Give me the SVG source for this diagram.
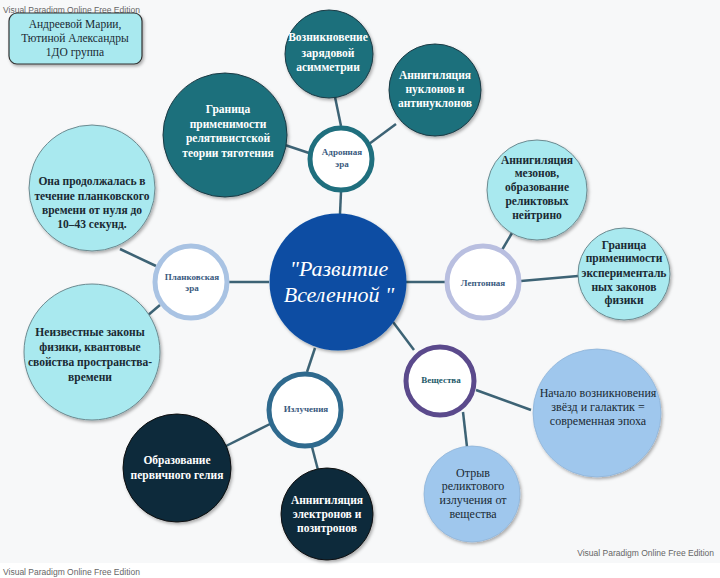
<svg xmlns="http://www.w3.org/2000/svg" width="720" height="578" viewBox="0 0 720 578">
<defs>
<filter id="sh" x="-20%" y="-20%" width="140%" height="140%">
<feDropShadow dx="1.5" dy="2" stdDeviation="1.5" flood-color="#000" flood-opacity="0.3"/>
</filter>
<style>
.wm{font-family:"Liberation Sans",Arial,sans-serif;font-size:8.5px;fill:#666}
.t{font-family:"Liberation Serif","Times New Roman",serif;text-anchor:middle}
.b{font-weight:bold;font-size:11.5px}
.w{fill:#ffffff}
.d{fill:#1a2a33}
.era{font-weight:bold;font-size:9px}
.teal{fill:#1e6f7c;stroke:#1a3a44;stroke-width:1;filter:url(#sh)}
.cyan{fill:#a9e9ef;stroke:#6c8a90;stroke-width:1;filter:url(#sh)}
.lb{fill:#9fc7ed;stroke:#8fb4d8;stroke-width:0.8;filter:url(#sh)}
.navy{fill:#0b2a3a;stroke:#111;stroke-width:1;filter:url(#sh)}
.ring{fill:#ffffff;stroke-width:5}
.ln{stroke:#3d6375;stroke-width:2.5;fill:none}
</style>
</defs>
<rect x="0" y="0" width="720" height="578" fill="#f7f8f9"/>
<rect x="0" y="563" width="720" height="15" fill="#ffffff"/>
<text class="wm" x="3" y="13">Visual Paradigm Online Free Edition</text>
<text class="wm" x="714" y="556" text-anchor="end">Visual Paradigm Online Free Edition</text>
<text class="wm" x="3" y="575">Visual Paradigm Online Free Edition</text>

<g id="connectors">
<line class="ln" x1="340" y1="214" x2="341" y2="192"/>
<line class="ln" x1="341" y1="126" x2="335" y2="97"/>
<line class="ln" x1="369" y1="144" x2="396" y2="124"/>
<line class="ln" x1="309" y1="153" x2="285" y2="145"/>
<line class="ln" x1="269" y1="282" x2="229" y2="282"/>
<line class="ln" x1="156" y1="266" x2="120" y2="249"/>
<line class="ln" x1="160" y1="305" x2="147" y2="316"/>
<line class="ln" x1="406" y1="282" x2="445" y2="282"/>
<line class="ln" x1="502" y1="250" x2="512" y2="233"/>
<line class="ln" x1="521" y1="281" x2="578" y2="276"/>
<line class="ln" x1="393" y1="322" x2="414" y2="350"/>
<line class="ln" x1="476" y1="390" x2="531" y2="410"/>
<line class="ln" x1="463" y1="412" x2="467" y2="447"/>
<line class="ln" x1="315" y1="348" x2="307" y2="372"/>
<line class="ln" x1="270" y1="424" x2="226" y2="446"/>
<line class="ln" x1="312" y1="447" x2="318" y2="470"/>
</g>

<g id="authors">
<rect x="9" y="13" width="133" height="51" rx="8" fill="#a9e9ef" stroke="#333" stroke-width="1.2" filter="url(#sh)"/>
<text class="t d" font-size="11.5" x="75" y="28">Андреевой Марии,</text>
<text class="t d" font-size="11.5" x="75" y="42">Тютиной Александры</text>
<text class="t d" font-size="11.5" x="75" y="56">1ДО группа</text>
</g>

<g id="center">
<circle cx="338" cy="282" r="68.5" fill="#0b4ea3" filter="url(#sh)"/>
<text class="t w" font-style="italic" font-size="22" x="339" y="276">"Развитие</text>
<text class="t w" font-style="italic" font-size="22" x="339" y="302">Вселенной "</text>
</g>

<g id="hadron">
<circle class="ring" cx="341" cy="159" r="31" stroke="#1f6f7e"/>
<text class="t era" fill="#3a5a80" x="342" y="155">Адронная</text>
<text class="t era" fill="#3a5a80" x="342" y="167">эра</text>
</g>
<g id="charge">
<circle class="teal" cx="329" cy="54" r="44"/>
<text class="t b w" x="328" y="41">Возникновение</text>
<text class="t b w" x="328" y="57">зарядовой</text>
<text class="t b w" x="328" y="71">асимметрии</text>
</g>
<g id="nucleons">
<circle class="teal" cx="435" cy="90" r="46"/>
<text class="t b w" x="435" y="79">Аннигиляция</text>
<text class="t b w" x="435" y="93">нуклонов и</text>
<text class="t b w" x="435" y="107">антинуклонов</text>
</g>
<g id="relativity">
<circle class="teal" cx="225" cy="135" r="62"/>
<text class="t b w" x="228" y="113">Граница</text>
<text class="t b w" x="228" y="128">применимости</text>
<text class="t b w" x="228" y="142">релятивистской</text>
<text class="t b w" x="228" y="157">теории тяготения</text>
</g>

<g id="planck">
<circle class="ring" cx="191" cy="282" r="36" stroke="#a9c3e3"/>
<text class="t era" fill="#3a5a80" x="192" y="280">Планковская</text>
<text class="t era" fill="#3a5a80" x="192" y="291">эра</text>
</g>
<g id="duration">
<circle class="cyan" cx="92" cy="188" r="63"/>
<text class="t b d" x="92" y="185">Она продолжалась в</text>
<text class="t b d" x="92" y="200">течение планковского</text>
<text class="t b d" x="92" y="214">времени от нуля до</text>
<text class="t b d" x="92" y="228">10–43 секунд.</text>
</g>
<g id="unknown">
<circle class="cyan" cx="92" cy="352" r="68"/>
<text class="t b d" x="90" y="336">Неизвестные законы</text>
<text class="t b d" x="90" y="351">физики, квантовые</text>
<text class="t b d" x="90" y="366">свойства пространства-</text>
<text class="t b d" x="90" y="381">времени</text>
</g>

<g id="lepton">
<circle class="ring" cx="483" cy="282" r="36" stroke="#b9bfe0"/>
<text class="t era" fill="#3a5a80" x="483" y="286">Лептонная</text>
</g>
<g id="mesons">
<circle class="cyan" cx="537" cy="190" r="50"/>
<text class="t b d" x="537" y="164">Аннигиляция</text>
<text class="t b d" x="537" y="177">мезонов,</text>
<text class="t b d" x="537" y="191">образование</text>
<text class="t b d" x="537" y="205">реликтовых</text>
<text class="t b d" x="537" y="219">нейтрино</text>
</g>
<g id="experimental">
<circle class="cyan" cx="624" cy="274" r="46"/>
<text class="t b d" x="624" y="249">Граница</text>
<text class="t b d" x="624" y="262">применимости</text>
<text class="t b d" x="624" y="277">эксперименталь</text>
<text class="t b d" x="624" y="291">ных законов</text>
<text class="t b d" x="624" y="304">физики</text>
</g>

<g id="matter">
<circle class="ring" cx="440" cy="381" r="34" stroke="#5b4a8c"/>
<text class="t era" fill="#1e5a6a" font-size="9.5" x="441" y="383">Вещества</text>
</g>
<g id="stars">
<circle class="lb" cx="597" cy="413" r="64"/>
<text class="t d" font-size="12" x="598" y="397">Начало возникновения</text>
<text class="t d" font-size="12" x="598" y="411">звёзд  и галактик =</text>
<text class="t d" font-size="12" x="598" y="425">современная эпоха</text>
</g>
<g id="relic">
<circle class="lb" cx="472" cy="494" r="48"/>
<text class="t d" font-size="12" x="473" y="477">Отрыв</text>
<text class="t d" font-size="12" x="473" y="490">реликтового</text>
<text class="t d" font-size="12" x="473" y="504">излучения от</text>
<text class="t d" font-size="12" x="473" y="518">вещества</text>
</g>

<g id="radiation">
<circle class="ring" cx="305" cy="410" r="36" stroke="#2f6a8e"/>
<text class="t era" fill="#3a5a80" x="306" y="412">Излучения</text>
</g>
<g id="helium">
<circle class="navy" cx="177" cy="468" r="54"/>
<text class="t b w" x="177" y="464">Образование</text>
<text class="t b w" x="177" y="479">первичного гелия</text>
</g>
<g id="electrons">
<circle class="navy" cx="327" cy="514" r="46"/>
<text class="t b w" x="327" y="504">Аннигиляция</text>
<text class="t b w" x="327" y="518">электронов и</text>
<text class="t b w" x="327" y="532">позитронов</text>
</g>
</svg>
